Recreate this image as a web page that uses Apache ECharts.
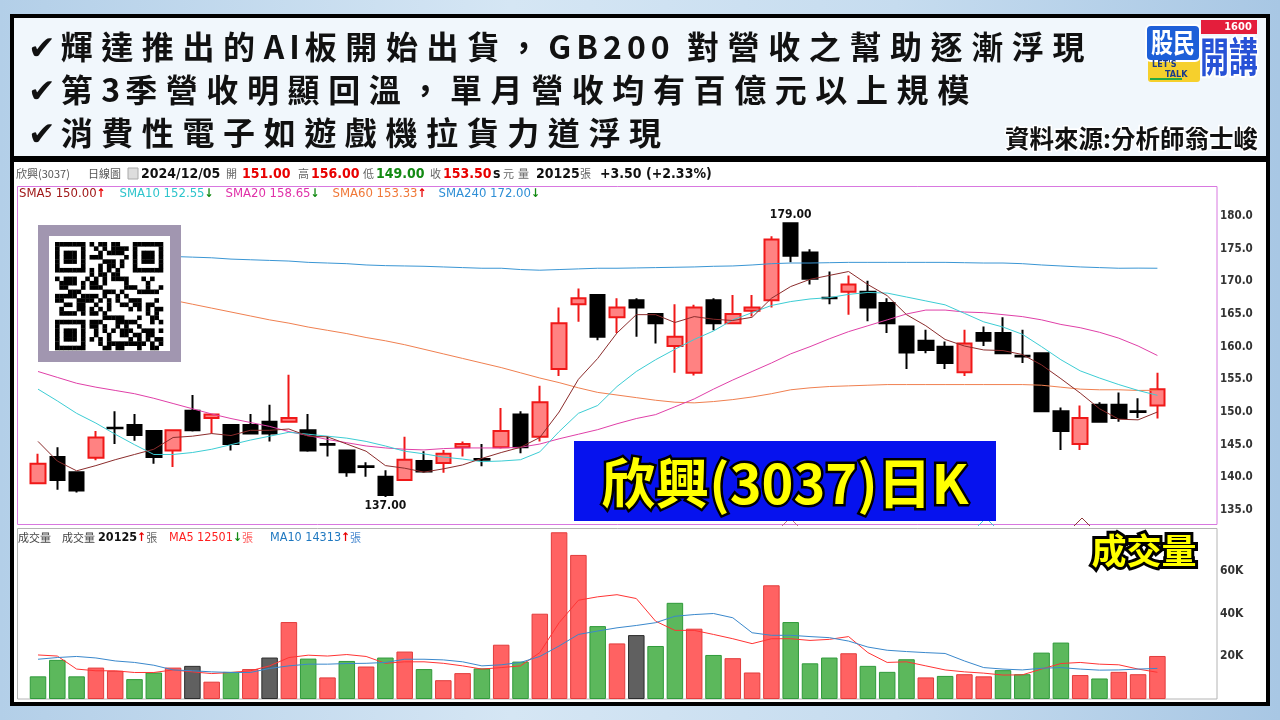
<!DOCTYPE html>
<html>
<head>
<meta charset="utf-8">
<script src="https://cdn.jsdelivr.net/npm/echarts@6/dist/echarts.min.js"></script>
<style>
  html, body { margin: 0; padding: 0; }
  body {
    width: 1280px; height: 720px; overflow: hidden; position: relative;
    background: linear-gradient(90deg, #b3cfe8 0%, #d5e6f4 40%, #c6dcef 70%, #a8c7e4 100%);
  }
  #chart { position: absolute; left: 0; top: 0; width: 1280px; height: 720px; }
  .head {
    position: absolute; left: 28px; z-index: 5; white-space: nowrap;
    font-family: "Noto Sans CJK TC", "Noto Sans CJK SC", sans-serif;
    font-weight: 700; font-size: 32px; line-height: 32px; letter-spacing: 8.6px; color: #111;
  }
  .head .ck { font-family: "DejaVu Sans", sans-serif; font-size: 33px; letter-spacing: 5px; }
  .head .l { letter-spacing: 5px; }
</style>
</head>
<body>
<div id="chart"></div>
<div class="head" style="top:29px"><span class="ck">✔</span>輝達推出的<span class="l">AI</span>板開始出貨，<span class="l">GB200 </span>對營收之幫助逐漸浮現</div>
<div class="head" style="top:72px"><span class="ck">✔</span>第<span class="l">3</span>季營收明顯回溫，單月營收均有百億元以上規模</div>
<div class="head" style="top:115px"><span class="ck">✔</span>消費性電子如遊戲機拉貨力道浮現</div>
<script>
// 欣興(3037) 日K，最後一根 2024/12/05
const opens = [139.1, 143.1, 140.8, 143.0, 147.6, 148.0, 147.1, 144.1, 150.2, 149.1,
  148.0, 148.0, 148.5, 148.5, 147.2, 145.1, 144.1, 141.7, 140.1, 139.6,
  142.5, 142.2, 144.6, 142.8, 144.6, 149.6, 146.2, 156.6, 166.5, 167.9,
  164.5, 167.1, 165.0, 160.1, 156.0, 167.1, 163.6, 165.5, 167.1, 178.9,
  174.4, 167.5, 168.4, 168.4, 166.7, 163.1, 160.9, 160.0, 156.1, 162.1,
  162.1, 158.6, 159.0, 150.1, 145.1, 151.1, 151.1, 150.1, 151.0];
const closes = [142.1, 139.6, 138.0, 146.1, 147.5, 146.5, 143.1, 147.2, 147.2, 149.6,
  145.1, 146.7, 146.7, 149.1, 144.1, 145.0, 140.8, 141.6, 137.3, 142.7,
  140.9, 143.6, 145.1, 142.7, 147.1, 144.6, 151.5, 163.6, 167.4, 161.5,
  166.0, 166.0, 163.6, 161.5, 166.0, 163.6, 165.0, 166.0, 176.4, 173.9,
  170.4, 167.4, 169.5, 166.0, 163.6, 159.1, 159.5, 157.5, 160.5, 160.9,
  159.0, 158.5, 150.1, 147.1, 149.1, 148.5, 149.1, 150.0, 153.5];
const lows = [139.0, 138.1, 137.7, 142.6, 145.1, 145.6, 142.1, 141.6, 147.0, 146.7,
  144.1, 146.7, 145.5, 148.5, 143.9, 143.2, 140.1, 140.1, 137.0, 139.6,
  140.7, 140.7, 143.2, 141.7, 144.4, 143.7, 145.5, 155.5, 163.8, 161.0,
  162.1, 161.5, 160.5, 156.0, 155.6, 162.5, 163.6, 164.6, 166.0, 172.9,
  169.5, 166.5, 164.9, 163.9, 162.1, 156.6, 159.0, 156.6, 155.5, 160.1,
  159.0, 157.5, 150.1, 144.2, 144.2, 148.5, 148.5, 149.1, 149.0];
const highs = [143.6, 144.6, 140.8, 147.1, 150.1, 149.7, 147.1, 147.3, 152.6, 149.6,
  148.0, 149.7, 151.1, 155.7, 149.7, 146.3, 144.1, 142.3, 141.1, 146.2,
  144.0, 144.2, 145.5, 145.1, 150.6, 150.1, 154.0, 166.0, 168.9, 167.9,
  167.4, 167.4, 165.0, 166.5, 166.4, 167.4, 167.9, 167.9, 176.9, 179.0,
  174.9, 171.5, 170.9, 170.1, 167.4, 163.1, 162.6, 160.8, 162.6, 163.1,
  164.5, 162.6, 159.0, 150.7, 151.0, 151.5, 153.0, 152.1, 156.0];

const sma5 = [145.5, 142.5, 141.0, 141.8, 142.7, 143.5, 144.3, 146.1, 146.3, 146.7,
  146.4, 147.2, 147.2, 147.4, 146.3, 146.2, 145.1, 144.0, 141.8, 141.4,
  140.8, 141.3, 141.9, 142.9, 143.8, 144.6, 146.1, 150.0, 155.0, 158.2,
  162.1, 164.9, 164.9, 163.7, 164.6, 164.2, 164.0, 164.5, 167.4, 169.2,
  170.3, 170.9, 171.5, 169.5, 167.8, 164.9, 163.2, 161.1, 160.1, 159.5,
  159.4, 158.8, 157.2, 155.1, 152.9, 150.5, 148.9, 148.8, 150.00];
const sma10 = [153.5, 151.7, 149.8, 148.3, 146.6, 145.0, 143.5, 143.5, 143.8, 144.3,
  145.0, 145.7, 146.3, 146.9, 146.6, 146.3, 146.0, 145.5, 144.8, 144.0,
  143.6, 143.1, 142.8, 142.4, 142.5, 142.7, 143.9, 147.0, 149.8, 151.0,
  153.9, 156.2, 158.0, 159.6, 161.1, 162.4, 164.1, 165.2, 166.3, 166.9,
  167.3, 167.5, 168.0, 168.3, 168.2, 167.6, 167.0, 166.4, 165.1, 163.8,
  163.0, 161.9, 160.0, 158.0, 156.3, 155.2, 154.2, 153.3, 152.55];
const sma20 = [156.2, 155.3, 154.4, 153.8, 153.3, 152.8, 152.1, 151.3, 150.5, 149.7,
  149.0, 148.4, 147.8, 147.0, 146.4, 145.8, 145.3, 144.8, 144.5, 144.3,
  144.2, 144.4, 144.5, 144.5, 144.5, 144.6, 145.1, 145.9, 146.6, 147.3,
  148.2, 149.0, 149.6, 150.8, 152.0, 153.5, 154.9, 156.2, 157.5, 158.9,
  160.0, 161.2, 162.3, 163.2, 164.1, 165.0, 165.6, 165.6, 165.3, 165.2,
  164.9, 164.6, 164.1, 163.4, 162.9, 162.2, 161.3, 160.1, 158.65];
const sma60 = [171.2, 170.6, 170.0, 169.4, 168.8, 168.3, 167.7, 167.1, 166.5, 165.9,
  165.3, 164.7, 164.1, 163.6, 163.0, 162.5, 162.0, 161.4, 160.9, 160.3,
  159.6, 158.9, 158.2, 157.5, 156.8, 156.0, 155.2, 154.5, 153.7, 153.0,
  152.6, 152.2, 151.8, 151.5, 151.4, 151.6, 151.9, 152.3, 152.8, 153.4,
  153.7, 153.9, 154.0, 154.1, 154.2, 154.2, 154.2, 154.2, 154.2, 154.2,
  154.2, 154.2, 154.1, 153.8, 153.5, 153.4, 153.4, 153.30, 153.33];
const sma240 = [174.7, 174.6, 174.5, 174.3, 174.2, 174.1, 174.0, 173.8, 173.7, 173.6,
  173.4, 173.3, 173.2, 173.1, 172.9, 172.8, 172.7, 172.5, 172.4, 172.35,
  172.3, 172.2, 172.1, 172.0, 172.0, 171.8, 171.7, 171.8, 171.9, 172.0,
  172.0, 172.05, 172.1, 172.15, 172.2, 172.3, 172.35, 172.5, 172.7, 172.8,
  172.8, 172.85, 172.9, 172.9, 172.9, 172.9, 172.9, 172.9, 172.85, 172.8,
  172.8, 172.7, 172.5, 172.35, 172.2, 172.1, 172.0, 172.02, 172.00];

// 成交量 (張)，r 漲 / g 跌 / n 平盤
const volumes = [10600, 18300, 10600, 14700, 13200, 9300, 12400, 14700, 15500, 8100,
  12700, 14000, 19400, 36000, 18900, 10100, 17800, 15200, 19400, 22200,
  14000, 8800, 12100, 14300, 25400, 17500, 39900, 78000, 67400, 34100,
  26000, 29900, 24800, 45000, 32900, 20600, 19100, 12400, 53200, 36000,
  16700, 19400, 21400, 15500, 12700, 18600, 10100, 10800, 11600, 10600,
  13500, 11600, 21700, 26400, 11200, 9600, 12700, 11600, 20125];
const volDir = ['g', 'g', 'g', 'r', 'r', 'g', 'g', 'r', 'n', 'r',
  'g', 'r', 'n', 'r', 'g', 'r', 'g', 'r', 'g', 'r',
  'g', 'r', 'r', 'g', 'r', 'g', 'r', 'r', 'r', 'g',
  'r', 'n', 'g', 'g', 'r', 'g', 'r', 'r', 'r', 'g',
  'g', 'g', 'r', 'g', 'g', 'g', 'r', 'g', 'r', 'r',
  'g', 'g', 'g', 'g', 'r', 'g', 'r', 'r', 'r'];
const volMa5 = [20600, 20100, 14000, 13200, 13200, 12400, 12400, 13600, 12700, 11900,
  12400, 13200, 15500, 19400, 20500, 20100, 20800, 19900, 16700, 17400,
  17400, 16700, 15500, 14000, 14700, 15500, 21700, 35700, 46200, 47800,
  48800, 47000, 36400, 32100, 32100, 30200, 28200, 25900, 28200, 28200,
  27400, 27900, 29200, 21700, 17100, 17400, 15500, 13600, 12700, 12100,
  11200, 11300, 14000, 16600, 17100, 16300, 16000, 14000, 12501];
const volMa10 = [18600, 19400, 19900, 19200, 17800, 17100, 15800, 13600, 13200, 12700,
  12400, 12400, 14300, 15500, 16300, 16300, 16600, 16700, 17100, 18600,
  18600, 18300, 17400, 15500, 16000, 17100, 19900, 24800, 30200, 31800,
  33300, 34400, 35700, 38700, 39500, 40000, 38000, 31000, 29800, 29800,
  29200, 28700, 27100, 24300, 22800, 22200, 21700, 21300, 17800, 14700,
  14000, 13600, 14400, 14700, 14000, 13500, 13600, 14000, 14313];

const days = opens.map((_, i) => String(i + 1));
const lastDate = '2024/12/05';

const CJK = '"Noto Sans CJK TC", "Noto Sans CJK SC", sans-serif';
const NUM = '"DejaVu Sans Condensed", "DejaVu Sans", sans-serif';
const RED = '#e80000', GREEN = '#138a13';

const chart = echarts.init(document.getElementById('chart'));

const n = opens.length;
const last = n - 1;
const arrow = arr => (arr[last] >= arr[last - 1] ? '{up|↑}' : '{dn|↓}');
const arrowRich = { up: { fill: RED, font: 'bold 12px ' + NUM }, dn: { fill: GREEN, font: 'bold 12px ' + NUM } };

function txt(x, y, text, color, size, weight, fam, extra) {
  return Object.assign({
    type: 'text', x: x, y: y, z: 60,
    style: {
      text: text, fill: color, verticalAlign: 'middle',
      font: (weight || 'normal') + ' ' + size + 'px ' + (fam || CJK)
    }
  }, extra || {});
}

function richTxt(x, y, text, rich) {
  return { type: 'text', x: x, y: y, z: 60, style: { text: text, verticalAlign: 'middle', rich: rich } };
}

// QR 圖樣（裝飾）
function qrOn(r, c) {
  const corners = [[0, 0], [0, 18], [18, 0]];
  for (const [r0, c0] of corners) {
    const dr = r - r0, dc = c - c0;
    if (dr >= -1 && dr <= 7 && dc >= -1 && dc <= 7) {
      if (dr < 0 || dr > 6 || dc < 0 || dc > 6) return false;
      if (dr === 0 || dr === 6 || dc === 0 || dc === 6) return true;
      if (dr === 1 || dr === 5 || dc === 1 || dc === 5) return false;
      return true;
    }
  }
  const h = ((r * 73856093) ^ (c * 19349663) ^ (r * c * 83492791)) >>> 0;
  return ((h >>> 7) & 3) < 2;
}
const qrCells = [];
const cell = 108 / 25;
for (let r = 0; r < 25; r++) {
  for (let c = 0; c < 25; c++) {
    if (qrOn(r, c)) {
      qrCells.push({ type: 'rect', z: 82, shape: { x: 55 + c * cell, y: 242 + r * cell, width: cell + 0.3, height: cell + 0.3 }, style: { fill: '#000' } });
    }
  }
}

const caret = (x, color) => ({
  type: 'polyline', z: 40,
  shape: { points: [[x - 8, 526], [x, 518], [x + 8, 526]] },
  style: { stroke: color, lineWidth: 1, fill: null }
});

const lastClose = closes[last], prevClose = closes[last - 1];
const chg = lastClose - prevClose;
const chgText = (chg >= 0 ? '+' : '') + chg.toFixed(2) + ' (' + (chg >= 0 ? '+' : '') + (chg / prevClose * 100).toFixed(2) + '%)';

const graphic = [
  // 外框
  { type: 'rect', z: 0, shape: { x: 12, y: 16, width: 1256, height: 142 }, style: { fill: '#f1f7fc', stroke: '#000', lineWidth: 4 } },
  { type: 'rect', z: 0, shape: { x: 12, y: 160, width: 1256, height: 544 }, style: { fill: '#fff', stroke: '#000', lineWidth: 4 } },
  { type: 'rect', z: 1, shape: { x: 17.5, y: 186.5, width: 1199.5, height: 338 }, style: { fill: null, stroke: '#d878e0', lineWidth: 1 } },
  { type: 'rect', z: 1, shape: { x: 17.5, y: 528.5, width: 1199.5, height: 170.5 }, style: { fill: null, stroke: '#b4b4b4', lineWidth: 1 } },

  // 資料來源
  {
    type: 'text', x: 1258, y: 139, z: 60,
    style: { text: '資料來源:分析師翁士峻', fill: '#111', stroke: '#fff', lineWidth: 3, align: 'right', verticalAlign: 'middle', font: 'bold 24.5px ' + CJK }
  },

  // logo
  { type: 'rect', z: 60, shape: { x: 1146, y: 25, width: 54, height: 36, r: 5 }, style: { fill: '#1d5fd8', stroke: '#fff', lineWidth: 2 } },
  {
    type: 'text', x: 1173, y: 43, z: 61, scaleY: 1.25,
    style: { text: '股民', fill: '#fff', align: 'center', verticalAlign: 'middle', font: 'bold 22px ' + CJK }
  },
  { type: 'rect', z: 60, shape: { x: 1201, y: 20, width: 56, height: 14 }, style: { fill: '#e41e3c' } },
  { type: 'text', x: 1238, y: 27, z: 61, style: { text: '1600', fill: '#fff', align: 'center', verticalAlign: 'middle', font: 'bold 11px ' + NUM } },
  { type: 'rect', z: 59, shape: { x: 1148, y: 58, width: 52, height: 24, r: 3 }, style: { fill: '#f6d02c' } },
  { type: 'text', x: 1152, y: 65, z: 61, style: { text: "LET'S", fill: '#1a3a8a', verticalAlign: 'middle', font: 'bold 9px ' + NUM } },
  { type: 'text', x: 1165, y: 75, z: 61, style: { text: 'TALK', fill: '#1a3a8a', verticalAlign: 'middle', font: 'bold 9px ' + NUM } },
  { type: 'rect', z: 61, shape: { x: 1150, y: 78, width: 32, height: 2 }, style: { fill: '#27a844' } },
  {
    type: 'text', x: 1229, y: 57, z: 61, scaleY: 1.4,
    style: { text: '開講', fill: '#2752d6', stroke: '#fff', lineWidth: 3, align: 'center', verticalAlign: 'middle', font: 'bold 29px ' + CJK }
  },

  // 圖表標頭
  txt(16, 174, '欣興(3037)', '#555', 11),
  txt(88, 174, '日線圖', '#555', 11),
  { type: 'rect', z: 60, shape: { x: 128, y: 168, width: 10, height: 11 }, style: { fill: '#ddd', stroke: '#aaa', lineWidth: 1 } },
  txt(141, 174, lastDate, '#111', 14, 'bold', NUM),
  txt(226, 174, '開', '#666', 11),
  txt(242, 174, opens[last].toFixed(2), RED, 14, 'bold', NUM),
  txt(298, 174, '高', '#666', 11),
  txt(311, 174, highs[last].toFixed(2), RED, 14, 'bold', NUM),
  txt(363, 174, '低', '#666', 11),
  txt(376, 174, lows[last].toFixed(2), GREEN, 14, 'bold', NUM),
  txt(430, 174, '收', '#666', 11),
  txt(443, 174, closes[last].toFixed(2), RED, 14, 'bold', NUM),
  txt(493, 174, 's', '#111', 14, 'bold', NUM),
  txt(503, 174, '元', '#666', 11),
  txt(518, 174, '量', '#666', 11),
  txt(536, 174, String(volumes[last]), '#111', 14, 'bold', NUM),
  txt(580, 174, '張', '#666', 11),
  txt(600, 174, chgText, '#111', 14, 'bold', NUM),

  richTxt(19, 194, '{a|SMA5 ' + sma5[last].toFixed(2) + '}' + arrow(sma5), Object.assign({ a: { fill: '#a01818', font: '13px ' + NUM } }, arrowRich)),
  richTxt(119.5, 194, '{a|SMA10 ' + sma10[last].toFixed(2) + '}' + arrow(sma10), Object.assign({ a: { fill: '#2ec4cc', font: '13px ' + NUM } }, arrowRich)),
  richTxt(225.5, 194, '{a|SMA20 ' + sma20[last].toFixed(2) + '}' + arrow(sma20), Object.assign({ a: { fill: '#e030a8', font: '13px ' + NUM } }, arrowRich)),
  richTxt(332.5, 194, '{a|SMA60 ' + sma60[last].toFixed(2) + '}' + arrow(sma60), Object.assign({ a: { fill: '#f07838', font: '13px ' + NUM } }, arrowRich)),
  richTxt(438.5, 194, '{a|SMA240 ' + sma240[last].toFixed(2) + '}' + arrow(sma240), Object.assign({ a: { fill: '#2f8fd6', font: '13px ' + NUM } }, arrowRich)),

  // 成交量標頭
  txt(18, 538, '成交量', '#444', 11),
  txt(62, 538, '成交量', '#444', 11),
  richTxt(98, 538, '{b|' + volumes[last] + '}' + arrow(volumes) + '{g|張}', Object.assign({ b: { fill: '#111', font: 'bold 12.5px ' + NUM }, g: { fill: '#666', font: '11px ' + CJK } }, arrowRich)),
  richTxt(169, 538, '{a|MA5 ' + volMa5[last] + '}' + arrow(volMa5) + '{z|張}', Object.assign({ a: { fill: '#ff2020', font: '12.5px ' + NUM }, z: { fill: '#ff6060', font: '11px ' + CJK } }, arrowRich)),
  richTxt(270, 538, '{a|MA10 ' + volMa10[last] + '}' + arrow(volMa10) + '{z|張}', Object.assign({ a: { fill: '#1f78c0', font: '12.5px ' + NUM }, z: { fill: '#4a8ad0', font: '11px ' + CJK } }, arrowRich)),

  caret(790, '#c07080'), caret(986, '#40c8d8'), caret(1082, '#8b3a3a'),

  // QR
  { type: 'rect', z: 80, shape: { x: 38, y: 225, width: 143, height: 137 }, style: { fill: '#a196b0' } },
  { type: 'rect', z: 81, shape: { x: 49, y: 236, width: 121, height: 115 }, style: { fill: '#fff' } },
  { type: 'group', z: 82, children: qrCells },

  // 大標
  { type: 'rect', z: 80, shape: { x: 574, y: 441, width: 422, height: 80 }, style: { fill: '#0612ee' } },
  {
    type: 'text', x: 785, y: 483, z: 81,
    style: { text: '欣興(3037)日K', fill: '#ffff00', stroke: '#000', lineWidth: 5, align: 'center', verticalAlign: 'middle', font: 'bold 54px ' + CJK }
  },
  {
    type: 'text', x: 1144, y: 551, z: 81,
    style: { text: '成交量', fill: '#ffff00', stroke: '#000', lineWidth: 6, align: 'center', verticalAlign: 'middle', font: 'bold 35px ' + CJK }
  }
];

const candleData = opens.map((o, i) => [o, closes[i], lows[i], highs[i]]);
const volColors = {
  r: { color: '#ff6262', borderColor: '#e23c3c' },
  g: { color: '#5cb85c', borderColor: '#2f9a3a' },
  n: { color: '#606060', borderColor: '#2c2c2c' }
};
const volData = volumes.map((v, i) => ({ value: v, itemStyle: volColors[volDir[i]] }));

const maLine = (name, data, color, xi, yi) => ({
  name: name, type: 'line', data: data, xAxisIndex: xi, yAxisIndex: yi,
  showSymbol: false, symbol: 'none', smooth: false, z: 4,
  lineStyle: { color: color, width: 1 }
});

const gridLeft = 28.35, gridRight = 112.95;
const hideAxis = { axisLine: { show: false }, axisTick: { show: false }, splitLine: { show: false } };

const option = {
  animation: false,
  grid: [
    { left: gridLeft, right: gridRight, top: 183.3, height: 359.4 },
    { left: gridLeft, right: gridRight, top: 528, height: 171 }
  ],
  xAxis: [
    Object.assign({ type: 'category', gridIndex: 0, data: days, boundaryGap: true, axisLabel: { show: false } }, hideAxis),
    Object.assign({ type: 'category', gridIndex: 1, data: days, boundaryGap: true, axisLabel: { show: false } }, hideAxis)
  ],
  yAxis: [
    Object.assign({
      type: 'value', gridIndex: 0, position: 'right', offset: 50,
      min: 130, max: 185, interval: 5,
      axisLabel: {
        margin: 3, showMinLabel: false, showMaxLabel: false,
        formatter: v => v.toFixed(1), color: '#333', fontSize: 11.5, fontWeight: 'bold', fontFamily: NUM
      }
    }, hideAxis),
    Object.assign({
      type: 'value', gridIndex: 1, position: 'right', offset: 50,
      min: 0, max: 80000, interval: 20000,
      axisLabel: {
        margin: 3, showMinLabel: false, showMaxLabel: false,
        formatter: v => v / 1000 + 'K', color: '#333', fontSize: 12, fontWeight: 'bold', fontFamily: NUM
      }
    }, hideAxis)
  ],
  series: [
    maLine('SMA240', sma240, '#3a96d4', 0, 0),
    maLine('SMA60', sma60, '#f08050', 0, 0),
    maLine('SMA20', sma20, '#e040a8', 0, 0),
    maLine('SMA10', sma10, '#3ccdd4', 0, 0),
    {
      name: '日K', type: 'candlestick', data: candleData, xAxisIndex: 0, yAxisIndex: 0,
      barWidth: 15, z: 3,
      itemStyle: { color: '#ff8282', color0: '#000', borderColor: '#f01818', borderColor0: '#000', borderWidth: 2 },
      markPoint: {
        symbol: 'circle', symbolSize: 1, itemStyle: { color: 'rgba(0,0,0,0)' },
        label: {
          show: true, color: '#111', fontWeight: 'bold', fontSize: 12, fontFamily: NUM,
          formatter: p => Number(p.value).toFixed(2)
        },
        data: [
          { type: 'max', valueDim: 'highest', label: { position: 'top', distance: 1 } },
          { type: 'min', valueDim: 'lowest', label: { position: 'bottom', distance: 2 } }
        ]
      }
    },
    maLine('SMA5', sma5, '#8b2c2c', 0, 0),
    {
      name: '成交量', type: 'bar', data: volData, xAxisIndex: 1, yAxisIndex: 1,
      barWidth: 16.5, itemStyle: { borderWidth: 1 }
    },
    maLine('MA5', volMa5, '#ff3434', 1, 1),
    maLine('MA10', volMa10, '#3a88cc', 1, 1)
  ],
  graphic: graphic
};

chart.setOption(option);
</script>
</body>
</html>
